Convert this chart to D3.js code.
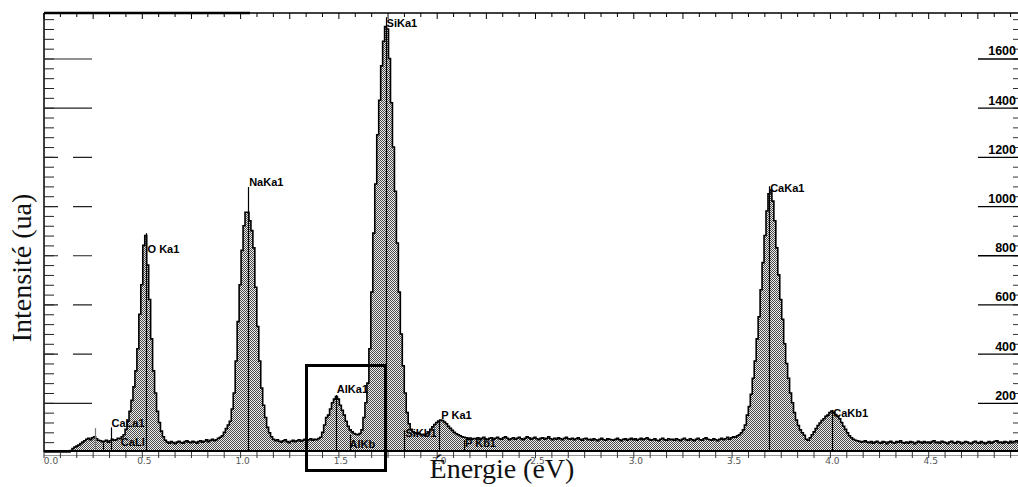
<!DOCTYPE html>
<html>
<head>
<meta charset="utf-8">
<script src="https://cdn.jsdelivr.net/npm/d3@7"></script>
<style>
  body { margin: 0; background: #fff; }
  svg { display: block; }
</style>
</head>
<body>
<svg id="chart" width="1018" height="487"></svg>
<script>
// EDS spectrum: counts per 0.01 keV channel, starting at 0.00 keV
const channelStart = 0.0;
const channelWidth = 0.01;
const counts = [
  0,0,0,0,0,0,0,0,0,0,
  0,0,0,0,6,14,20,24,28,34,
  40,46,52,56,50,58,62,54,48,46,
  42,44,48,40,46,52,48,50,56,54,
  62,70,92,125,165,210,265,330,420,560,
  680,840,880,760,620,460,330,240,165,120,
  85,62,48,40,36,42,38,34,40,44,
  38,36,42,46,40,38,44,40,36,42,
  46,40,44,50,42,48,52,46,50,56,
  60,66,80,95,110,125,175,240,370,530,
  680,820,920,975,975,940,900,830,670,510,
  370,260,190,140,100,78,62,52,46,50,
  44,40,46,50,42,38,44,48,42,46,
  50,44,48,52,46,50,54,48,52,50,
  55,60,80,110,140,150,175,200,215,225,
  215,190,170,150,125,105,90,82,75,72,
  70,75,90,140,200,280,420,650,890,1090,
  1290,1430,1570,1670,1730,1720,1600,1420,1240,1060,
  850,650,480,350,240,160,115,92,82,78,
  74,76,70,72,68,74,80,92,102,112,
  120,126,130,128,122,115,104,96,88,80,
  74,70,66,62,60,58,56,57,52,55,
  54,58,52,56,60,54,50,56,58,52,
  56,60,54,52,58,62,56,50,54,58,
  52,56,60,54,50,56,62,58,52,56,
  60,54,50,56,58,52,56,62,54,50,
  56,52,58,54,50,56,60,54,52,56,
  50,54,58,52,48,54,56,50,52,48,
  54,50,46,52,56,50,48,54,52,50,
  48,52,56,50,46,52,54,48,52,56,
  50,54,48,52,56,50,54,58,52,48,
  50,54,48,46,52,56,50,48,54,50,
  52,48,54,50,46,52,56,50,48,54,
  50,46,52,56,50,48,54,58,52,50,
  48,54,50,46,52,56,50,54,60,52,
  58,62,60,66,70,78,90,110,150,185,
  235,300,370,460,550,660,770,880,980,1050,
  1065,1020,940,830,720,620,540,440,360,300,
  240,200,160,130,108,90,78,68,52,48,
  58,70,82,95,108,118,128,135,145,150,
  160,166,160,152,145,135,120,105,92,78,
  66,58,52,48,46,44,40,42,46,40,
  38,42,36,40,44,38,36,42,40,34,
  40,44,38,36,42,40,46,38,36,40,
  36,42,40,34,38,44,40,36,42,38,
  40,36,42,46,38,40,36,44,40,38,
  34,40,44,38,36,42,40,34,38,42,
  40,36,34,40,44,38,36,42,38,34,
  38,42,36,40,44,46,38,40,36,42,
  40,36,44,38,42,46,40
];

// Identified X-ray lines: name, energy (keV), marker height (counts)
const lineNames    = ["C", "CaLl", "CaLa1", "O Ka1", "NaKa1", "AlKa1", "AlKb", "SiKa1", "SiKb1", "P Ka1", "P Kb1", "CaKa1", "CaKb1"];
const lineEnergies = [0.262, 0.302, 0.341, 0.519, 1.041, 1.487, 1.557, 1.740, 1.836, 2.013, 2.139, 3.691, 4.012];
const lineHeights  = [97, 40, 100, 890, 1077, 232, 70, 1768, 89, 130, 49, 1081, 171];

// Axis ticks
const energyTicks = [0.0, 0.5, 1.0, 1.5, 2.0, 2.5, 3.0, 3.5, 4.0, 4.5];
const intensityTicks = [200, 400, 600, 800, 1000, 1200, 1400, 1600];

// Label placement relative to the top of each marker
const labelOffset = {
  "C": null,
  "CaLl": [18, 4],
  "CaLa1": [1, 0],
  "O Ka1": [2, 20],
  "NaKa1": [1, -1],
  "AlKa1": [1, -2],
  "AlKb": [0, 13],
  "SiKa1": [1, 10],
  "SiKb1": [1, 7],
  "P Ka1": [2, -1],
  "P Kb1": [1, 7],
  "CaKa1": [1, 6],
  "CaKb1": [1, 7]
};

const W = 1018, H = 487;
const plotLeft = 44, plotTop = 13, plotBottom = 452;
const svg = d3.select("#chart");

const x = d3.scaleLinear().domain([0, 5]).range([43.5, 43.5 + 196.6 * 5]);
const y = d3.scaleLinear().domain([0, 1785]).range([plotBottom, plotTop]);

const spectrum = counts.map((v, i) => ({ e: channelStart + i * channelWidth, v }));

// stippled halftone fill
const defs = svg.append("defs");
const pat = defs.append("pattern").attr("id", "stipple")
  .attr("patternUnits", "userSpaceOnUse").attr("width", 2).attr("height", 2);
pat.append("rect").attr("width", 2).attr("height", 2).attr("fill", "#eeeeee");
pat.append("rect").attr("x", 0).attr("y", 0).attr("width", 1).attr("height", 1).attr("fill", "#4a4a4a");
pat.append("rect").attr("x", 1).attr("y", 1).attr("width", 1).attr("height", 1).attr("fill", "#4a4a4a");

defs.append("clipPath").attr("id", "plotClip")
  .append("rect").attr("x", plotLeft).attr("y", plotTop).attr("width", W - plotLeft).attr("height", plotBottom - plotTop + 2);

const plot = svg.append("g").attr("clip-path", "url(#plotClip)");

const area = d3.area()
  .x(d => x(d.e)).y0(y(0)).y1(d => y(d.v))
  .curve(d3.curveStep);
const outline = d3.line()
  .x(d => x(d.e)).y(d => y(d.v))
  .curve(d3.curveStep);

plot.append("path").datum(spectrum)
  .attr("d", area).attr("fill", "url(#stipple)").attr("shape-rendering", "crispEdges");
plot.append("path").datum(spectrum)
  .attr("d", outline).attr("fill", "none").attr("stroke", "#000").attr("stroke-width", 1.6);

// line markers
const lines = lineNames.map((n, i) => ({ name: n, e: lineEnergies[i], h: lineHeights[i] }));
plot.selectAll("line.marker").data(lines).join("line")
  .attr("class", "marker")
  .attr("x1", d => Math.round(x(d.e)) + 0.5).attr("x2", d => Math.round(x(d.e)) + 0.5)
  .attr("y1", y(0)).attr("y2", d => y(d.h))
  .attr("stroke", d => d.name === "C" ? "#777" : "#000").attr("stroke-width", 1.2);

svg.selectAll("text.peak").data(lines.filter(d => labelOffset[d.name])).join("text")
  .attr("class", "peak")
  .attr("x", d => x(d.e) + labelOffset[d.name][0])
  .attr("y", d => y(d.h) + labelOffset[d.name][1])
  .attr("font-family", "Liberation Sans, Arial, sans-serif")
  .attr("font-weight", "bold").attr("font-size", 11)
  .attr("fill", "#000")
  .text(d => d.name);

// top frame line with ticks
svg.append("line").attr("x1", plotLeft).attr("x2", W).attr("y1", plotTop).attr("y2", plotTop)
  .attr("stroke", "#000").attr("stroke-width", 1.6);
svg.append("line").attr("x1", plotLeft).attr("x2", 250).attr("y1", plotTop).attr("y2", plotTop)
  .attr("stroke", "#000").attr("stroke-width", 2.6);
const topAxis = d3.axisBottom(x)
  .tickValues(d3.range(0, 60).map(i => i / 12))
  .tickSize(4).tickFormat("");
svg.append("g").attr("transform", `translate(0,${plotTop})`).call(topAxis)
  .call(g => g.select(".domain").remove())
  .call(g => g.selectAll(".tick line").attr("stroke", "#000")
    .attr("y2", (d, i) => i % 3 === 0 ? 6 : 4));

// bottom axis
svg.append("line").attr("x1", plotLeft).attr("x2", W).attr("y1", 455.5).attr("y2", 455.5)
  .attr("stroke", "#999").attr("stroke-width", 1);
svg.append("line").attr("x1", plotLeft).attr("x2", W).attr("y1", 451).attr("y2", 451)
  .attr("stroke", "#000").attr("stroke-width", 2.2);
const bottomMinor = d3.axisBottom(x)
  .tickValues(d3.range(0, 60).map(i => i / 12))
  .tickSize(6).tickFormat("");
svg.append("g").attr("transform", "translate(0,452)").call(bottomMinor)
  .call(g => g.select(".domain").remove())
  .call(g => g.selectAll(".tick line").attr("stroke", "#333"));
const bottomAxis = d3.axisBottom(x)
  .tickValues(energyTicks).tickSize(0).tickPadding(6)
  .tickFormat(d3.format(".1f"));
svg.append("g").attr("transform", "translate(0,452)").call(bottomAxis)
  .call(g => g.select(".domain").remove())
  .call(g => g.selectAll(".tick text")
    .attr("font-family", "DejaVu Sans, sans-serif").attr("font-size", 9)
    .attr("fill", "#555").attr("dx", d => d === 0 ? 7 : 2));

// left axis
svg.append("line").attr("x1", plotLeft).attr("x2", plotLeft).attr("y1", plotTop).attr("y2", plotBottom)
  .attr("stroke", "#000").attr("stroke-width", 1.5);
const leftMinor = d3.axisRight(y)
  .tickValues(d3.range(1, 45).map(i => i * 40))
  .tickSize(10).tickFormat("");
svg.append("g").attr("transform", `translate(${plotLeft},0)`).call(leftMinor)
  .call(g => g.select(".domain").remove())
  .call(g => g.selectAll(".tick line").attr("stroke", "#222"));
const leftMajor = d3.axisRight(y)
  .tickValues(intensityTicks).tickSize(48).tickFormat("");
svg.append("g").attr("transform", `translate(${plotLeft},0)`).call(leftMajor)
  .call(g => g.select(".domain").remove())
  .call(g => g.selectAll(".tick line").attr("stroke", "#222").attr("stroke-width", 1.2)
    .attr("stroke-dasharray", d => (d === 200 || d === 1600 || d === 1400) ? null : "14,15,19"));

// right axis
const rightMinor = d3.axisLeft(y)
  .tickValues(d3.range(1, 45).map(i => i * 40))
  .tickSize(5).tickFormat("");
svg.append("g").attr("transform", `translate(${W},0)`).call(rightMinor)
  .call(g => g.select(".domain").remove())
  .call(g => g.selectAll(".tick line").attr("stroke", "#333"));
const rightMajor = d3.axisLeft(y)
  .tickValues(intensityTicks).tickSize(40).tickFormat("");
svg.append("g").attr("transform", `translate(${W},0)`).call(rightMajor)
  .call(g => g.select(".domain").remove())
  .call(g => g.selectAll(".tick line").attr("stroke", "#000").attr("stroke-width", 1.3));
svg.selectAll("text.ylab").data(intensityTicks).join("text")
  .attr("class", "ylab")
  .attr("x", 1016).attr("y", d => y(d) - 3).attr("text-anchor", "end")
  .attr("font-family", "Liberation Sans, Arial, sans-serif")
  .attr("font-weight", "bold").attr("font-size", 12.5).attr("fill", "#000")
  .text(d => d);

// highlight box around the Al peak
svg.append("rect")
  .attr("x", 306.5).attr("y", 365.5).attr("width", 79).attr("height", 105)
  .attr("fill", "none").attr("stroke", "#000").attr("stroke-width", 3);

// axis titles
svg.append("text")
  .attr("x", 502).attr("y", 478).attr("text-anchor", "middle")
  .attr("font-family", "Liberation Serif, Times New Roman, serif")
  .attr("font-size", 28).attr("fill", "#111")
  .text("Énergie (eV)");
svg.append("text")
  .attr("transform", "translate(31,268) rotate(-90)").attr("text-anchor", "middle")
  .attr("font-family", "Liberation Serif, Times New Roman, serif")
  .attr("font-size", 28).attr("fill", "#111")
  .text("Intensité (ua)");
</script>
</body>
</html>
